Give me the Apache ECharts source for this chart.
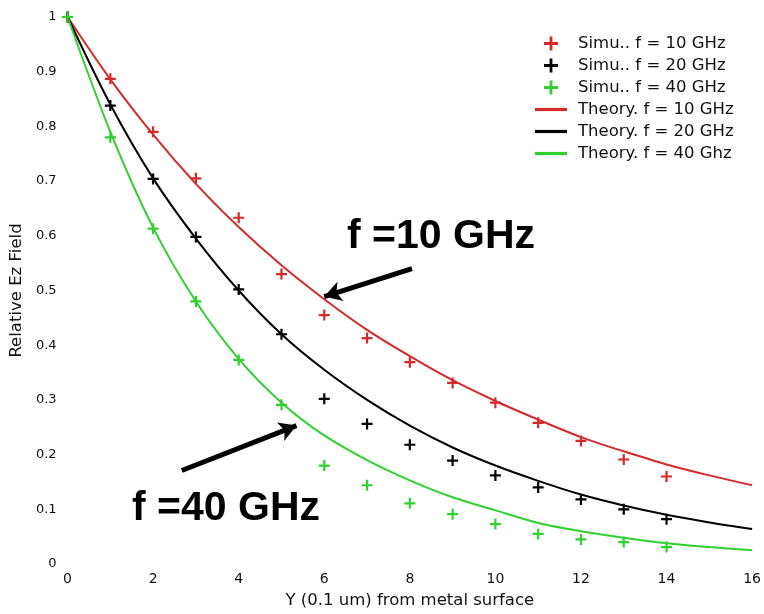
<!DOCTYPE html>
<html>
<head>
<meta charset="utf-8">
<script src="https://cdn.jsdelivr.net/npm/echarts@6/dist/echarts.min.js"></script>
<style>html,body{margin:0;padding:0;background:#fff}#c{width:764px;height:614px}</style>
</head>
<body>
<div id="c"></div>
<script>
// Sample positions (0.1 um units)
const simX = [0,1,2,3,4,5,6,7,8,9,10,11,12,13,14];
const theoryX = [0,1,2,3,4,5,6,7,8,9,10,11,12,13,14,15,16];

// Simulated relative Ez field
const sim10 = [1,0.887,0.79,0.705,0.633,0.53,0.455,0.413,0.369,0.331,0.295,0.258,0.225,0.191,0.16];
const sim20 = [1,0.838,0.704,0.598,0.502,0.42,0.302,0.256,0.218,0.189,0.162,0.14,0.118,0.1,0.082];
const sim40 = [1,0.78,0.613,0.48,0.373,0.291,0.18,0.144,0.111,0.091,0.073,0.055,0.045,0.04,0.031];

// Theory curves
const th10 = [1,0.886,0.785,0.695,0.616,0.546,0.484,0.428,0.38,0.336,0.298,0.264,0.232,0.206,0.182,0.162,0.144];
const th20 = [1,0.84,0.705,0.595,0.5,0.42,0.355,0.3,0.253,0.213,0.18,0.152,0.127,0.107,0.09,0.076,0.064];
const th40 = [1,0.79,0.615,0.48,0.375,0.295,0.235,0.19,0.153,0.122,0.098,0.075,0.06,0.048,0.038,0.031,0.025];

const xTicks = [0,2,4,6,8,10,12,14,16];
const yTicks = [0,0.1,0.2,0.3,0.4,0.5,0.6,0.7,0.8,0.9,1];

const names = ['Simu.. f = 10 GHz','Simu.. f = 20 GHz','Simu.. f = 40 GHz','Theory. f = 10 GHz','Theory. f = 20 GHz','Theory. f = 40 Ghz'];
const annText = ['f =10 GHz','f =40 GHz'];
// arrows in data coordinates: [tailX, tailY, headX, headY]
const arrow10 = [8.05,0.54,6.0,0.489];
const arrow40 = [2.67,0.171,5.35,0.253];

const RED = '#d42a2a', BLACK = '#000000', GREEN = '#2fd12f';
const PLUS = 'path://M4,0H6V4H10V6H6V10H4V6H0V4H4Z';
const LINEICON = 'path://M0,0H30V3H0Z';
const zip = (xs, ys) => ys.map((v,i)=>[xs[i], v]);

const chart = echarts.init(document.getElementById('c'), null, {renderer:'canvas'});
const font = 'DejaVu Sans';

function simSeries(name, data, color) {
  return {name, type:'scatter', data: zip(simX, data), symbol: PLUS, symbolSize: 11,
    symbolKeepAspect: true, itemStyle:{color, opacity:1}, z: 3};
}
function thSeries(name, data, color, extra) {
  return Object.assign({name, type:'line', data: zip(theoryX, data), showSymbol:false, symbol:'none',
    smooth:0.3, lineStyle:{color, width:2}, itemStyle:{color}, z: 2}, extra||{});
}

chart.setOption({
  animation:false,
  backgroundColor:'#fff',
  grid:{left:67, right:9, top:17, bottom:47},
  legend:{
    orient:'vertical', left:530, top:30, itemWidth:32, itemHeight:14, itemGap:5,
    symbolKeepAspect:true,
    textStyle:{fontFamily:font, fontSize:16.5, color:'#111', padding:[0,0,0,6]},
    data: names.map((n,i)=> ({name:n, icon: i<3 ? PLUS : LINEICON}))
  },
  xAxis:{type:'value', min:0, max:16, interval:2,
    name:'Y (0.1 um) from metal surface', nameLocation:'middle', nameGap:28,
    nameTextStyle:{fontFamily:font, fontSize:16.5, color:'#111'},
    axisLine:{show:false}, axisTick:{show:false}, splitLine:{show:false},
    axisLabel:{fontFamily:font, fontSize:14, color:'#111', margin:8,
      formatter: v => xTicks.includes(v) ? String(v) : ''}
  },
  yAxis:{type:'value', min:0, max:1, interval:0.1,
    name:'Relative Ez Field', nameLocation:'middle', nameGap:31,
    nameTextStyle:{fontFamily:font, fontSize:16.5, color:'#111'},
    axisLine:{show:false}, axisTick:{show:false}, splitLine:{show:false},
    axisLabel:{fontFamily:font, fontSize:13, color:'#111', margin:11,
      formatter: v => { const t = yTicks.find(y=>Math.abs(y-v)<1e-6); return t===undefined ? '' : String(t); }}
  },
  graphic:[
    {type:'text', style:{text:annText[0], x:441, y:237, textAlign:'center', textVerticalAlign:'middle',
      font:'bold 41px "Liberation Sans", Arial, sans-serif', fill:'#000'}, z:10},
    {type:'text', style:{text:annText[1], x:226, y:509, textAlign:'center', textVerticalAlign:'middle',
      font:'bold 41px "Liberation Sans", Arial, sans-serif', fill:'#000'}, z:10}
  ],
  series:[
    simSeries(names[0], sim10, RED),
    simSeries(names[1], sim20, BLACK),
    simSeries(names[2], sim40, GREEN),
    thSeries(names[3], th10, RED, {
      markLine:{silent:true, symbol:['none','arrow'], symbolSize:[15,17], label:{show:false},
        lineStyle:{color:'#000', width:5, type:'solid'},
        data:[
          [{coord:[arrow10[0],arrow10[1]]},{coord:[arrow10[2],arrow10[3]]}],
          [{coord:[arrow40[0],arrow40[1]]},{coord:[arrow40[2],arrow40[3]]}]
        ]}
    }),
    thSeries(names[4], th20, BLACK),
    thSeries(names[5], th40, GREEN)
  ]
});
</script>
</body>
</html>
